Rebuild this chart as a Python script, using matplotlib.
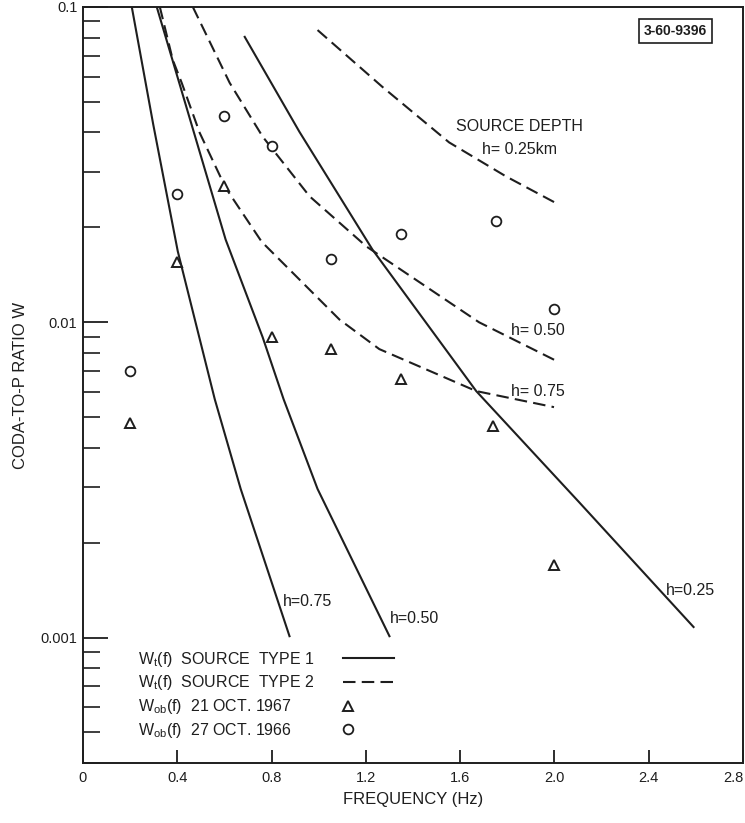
import matplotlib
matplotlib.use("Agg")
import matplotlib.pyplot as plt
from matplotlib import ticker
from matplotlib.legend_handler import HandlerLine2D

plt.rcParams["font.family"] = ["Liberation Sans", "DejaVu Sans"]
plt.rcParams["mathtext.default"] = "regular"
plt.rcParams["lines.scale_dashes"] = False

INK = "#1e1e1e"

# observed coda-to-P ratios
obs_f_1967 = [0.2, 0.4, 0.6, 0.8, 1.05, 1.35, 1.74, 2.0]
obs_w_1967 = [0.0048, 0.0155, 0.027, 0.0090, 0.0082, 0.0066, 0.0047, 0.0017]
obs_f_1966 = [0.2, 0.4, 0.6, 0.8, 1.05, 1.35, 1.75, 2.0]
obs_w_1966 = [0.0070, 0.0256, 0.045, 0.0363, 0.0159, 0.0191, 0.0210, 0.0110]

# theoretical W_t(f), source type 1 (solid)
t1_h025_f = [0.686, 0.918, 1.228, 1.668, 2.104, 2.59]
t1_h025_w = [0.0804, 0.0402, 0.0170, 0.00605, 0.00269, 0.00108]
t1_h050_f = [0.313, 0.605, 0.762, 0.851, 0.995, 1.30]
t1_h050_w = [0.1, 0.0183, 0.00897, 0.0057, 0.00296, 0.00101]
t1_h075_f = [0.207, 0.298, 0.402, 0.559, 0.669, 0.876]
t1_h075_w = [0.1, 0.0424, 0.0168, 0.0057, 0.00296, 0.00101]

# theoretical W_t(f), source type 2 (dashed)
t2_h025_f = [0.995, 1.27, 1.553, 1.795, 2.01]
t2_h025_w = [0.0845, 0.0558, 0.0372, 0.029, 0.0238]
t2_h050_f = [0.466, 0.622, 0.762, 0.961, 1.202, 1.68, 2.01]
t2_h050_w = [0.1, 0.0575, 0.0388, 0.0251, 0.0174, 0.0100, 0.00753]
t2_h075_f = [0.326, 0.381, 0.419, 0.495, 0.605, 0.758, 1.088, 1.257, 1.668, 1.998]
t2_h075_w = [0.1, 0.0679, 0.0574, 0.0399, 0.0267, 0.0180, 0.0102, 0.00822, 0.00605, 0.00538]

x_ticks = [0, 0.4, 0.8, 1.2, 1.6, 2.0, 2.4, 2.8]
x_labels = ["0", "0.4", "0.8", "1.2", "1.6", "2.0", "2.4", "2.8"]
y_ticks = [0.001, 0.01, 0.1]
y_labels = ["0.001", "0.01", "0.1"]


class LeftMarker(HandlerLine2D):
    # put a lone marker at the left end of the key instead of the middle
    def get_xdata(self, legend, xdescent, ydescent, width, height, fontsize):
        x0 = -xdescent + 0.11 * width
        return [x0, x0], [x0]


fig = plt.figure(figsize=(7.45, 8.23), dpi=100)
ax = fig.add_axes([0.1114, 0.0729, 0.886, 0.9186])
ax.set_yscale("log")
ax.set_xlim(0, 2.8)
ax.set_ylim(0.0004, 0.1)

lw = 1.5
dash = (9, 4.5)
l1, = ax.plot(t1_h025_f, t1_h025_w, color=INK, lw=lw)
ax.plot(t1_h050_f, t1_h050_w, color=INK, lw=lw)
ax.plot(t1_h075_f, t1_h075_w, color=INK, lw=lw)
l2, = ax.plot(t2_h025_f, t2_h025_w, color=INK, lw=lw, dashes=dash)
ax.plot(t2_h050_f, t2_h050_w, color=INK, lw=lw, dashes=dash)
ax.plot(t2_h075_f, t2_h075_w, color=INK, lw=lw, dashes=dash)

m1, = ax.plot(obs_f_1967, obs_w_1967, ls="none", marker="^", ms=7.5,
              mfc="white", mec=INK, mew=1.4)
m2, = ax.plot(obs_f_1966, obs_w_1966, ls="none", marker="o", ms=7,
              mfc="white", mec=INK, mew=1.3)

# curve labels
fs = 11.5
ax.text(1.85, 0.0417, "SOURCE DEPTH", ha="center", va="center", fontsize=fs, color=INK)
ax.text(1.85, 0.0353, "h= 0.25km", ha="center", va="center", fontsize=fs, color=INK)
ax.text(1.816, 0.00944, "h= 0.50", ha="left", va="center", fontsize=fs, color=INK)
ax.text(1.816, 0.00605, "h= 0.75", ha="left", va="center", fontsize=fs, color=INK)
ax.text(0.847, 0.0013, "h=0.75", ha="left", va="center", fontsize=fs, color=INK)
ax.text(1.30, 0.00115, "h=0.50", ha="left", va="center", fontsize=fs, color=INK)
ax.text(2.472, 0.00141, "h=0.25", ha="left", va="center", fontsize=fs, color=INK)

ax.text(0.897, 0.968, "3-60-9396", transform=ax.transAxes, ha="center", va="center",
        fontsize=10, fontweight="bold", color=INK,
        bbox=dict(boxstyle="square,pad=0.35", fc="white", ec=INK, lw=1.2))

# legend: text column on the left, keys lined up on the right
handles = [l1, l2, m1, m2]
labels = ["W$_t$(f)  SOURCE  TYPE 1", "W$_t$(f)  SOURCE  TYPE 2",
          "W$_{ob}$(f)  21 OCT. 1967", "W$_{ob}$(f)  27 OCT. 1966"]
common = dict(frameon=False, fontsize=fs, labelspacing=0.3, borderpad=0,
              borderaxespad=0)
leg_txt = ax.legend(handles, labels, loc="upper left", bbox_to_anchor=(0.083, 0.150),
                    handlelength=0, handletextpad=0, labelcolor=INK, **common)
for h in leg_txt.legend_handles:
    h.set_visible(False)
ax.add_artist(leg_txt)
leg_keys = ax.legend(handles, labels, loc="upper right", bbox_to_anchor=(0.471, 0.150),
                     markerfirst=False, handlelength=3.2, handletextpad=0,
                     handler_map={m1: LeftMarker(), m2: LeftMarker()}, **common)
for t in leg_keys.get_texts():
    t.set_visible(False)

# axes styling
for s in ax.spines.values():
    s.set_linewidth(1.4)
    s.set_color(INK)
ax.set_xticks(x_ticks, x_labels)
ax.get_xticklabels()[-1].set_horizontalalignment("right")
ax.set_yticks(y_ticks, y_labels)
ax.yaxis.set_minor_locator(ticker.LogLocator(base=10, subs=[2, 3, 4, 5, 6, 7, 8, 9]))
ax.yaxis.set_minor_formatter(ticker.NullFormatter())
ax.tick_params(axis="x", direction="in", length=9.5, width=1.3, pad=6,
               labelsize=10.5, colors=INK)
ax.tick_params(axis="y", which="major", direction="in", length=18, width=1.3,
               pad=4, labelsize=10.5, colors=INK)
ax.tick_params(axis="y", which="minor", direction="in", length=12, width=1.2, colors=INK)

ax.set_xlabel("FREQUENCY (Hz)", fontsize=12, color=INK)
ax.xaxis.set_label_coords(0.5, -0.039)
ax.set_ylabel("CODA-TO-P RATIO W", fontsize=12, color=INK)
ax.yaxis.set_label_coords(-0.084, 0.5)

fig.savefig("out.png", dpi=100, facecolor="white")
